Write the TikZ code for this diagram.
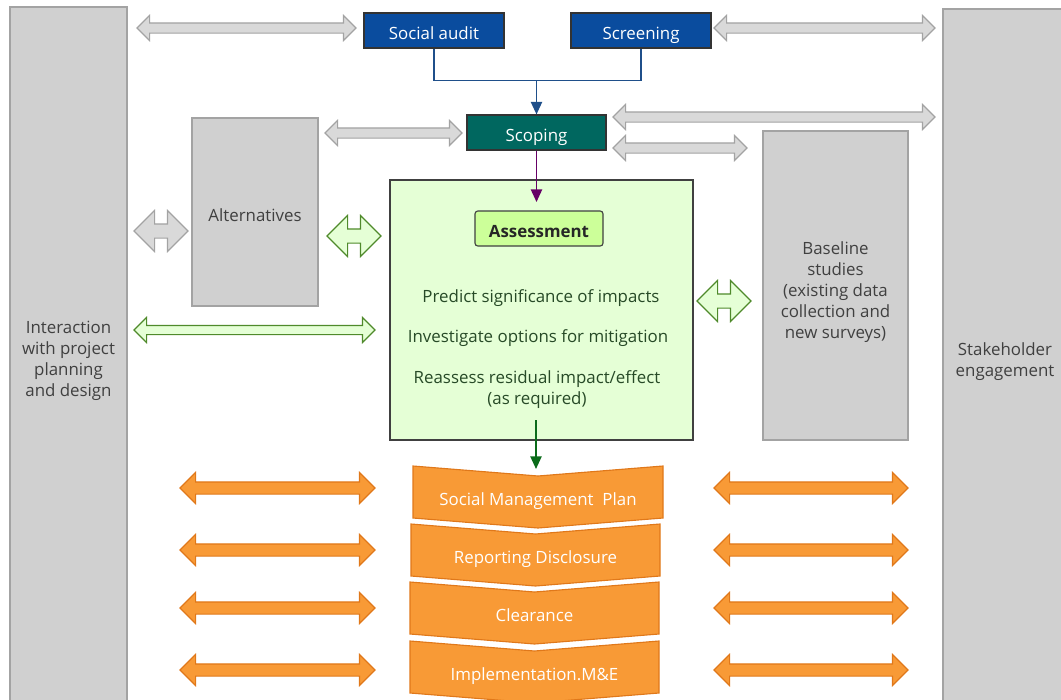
\documentclass[tikz,border=0pt]{standalone}
\usepackage{fontspec}
\setmainfont{Open Sans}
\usetikzlibrary{shapes.arrows,arrows.meta}
\definecolor{boxgray}{HTML}{D0D0D0}
\definecolor{boxedge}{HTML}{A3A3A3}
\definecolor{arrgray}{HTML}{D9D9D9}
\definecolor{auditblue}{HTML}{0A4C9E}
\definecolor{scopeteal}{HTML}{00675F}
\definecolor{lightgreen}{HTML}{E5FFD6}
\definecolor{headgreen}{HTML}{CCFF99}
\definecolor{edgegreen}{HTML}{4F8A2B}
\definecolor{textgreen}{HTML}{274A27}
\definecolor{planorange}{HTML}{F89A36}
\definecolor{edgeorange}{HTML}{E0781A}
\definecolor{linkblue}{HTML}{1F4F8A}
\definecolor{linkpurple}{HTML}{660066}
\definecolor{linkgreen}{HTML}{0B6B1A}
\def\pxu{0.025cm}
\newcommand{\stage}[5]{%
  \draw[stagebox] (#2,#4) -- ({(#2+#3)/2},#4+10) -- (#3,#4) -- (#3,#4+52)
    -- ({(#2+#3)/2},#4+62) -- (#2,#4+52) -- cycle;
  \coordinate (#1-top) at ({(#2+#3)/2},#4+10);
  \node[stagetext] (#1) at ({(#2+#3)/2},#4+30) {#5};
}

\begin{document}
\begin{tikzpicture}[x=\pxu,y=-\pxu,font=\fontsize{12}{15}\selectfont,
    dims/.style 2 args={minimum width={#1*\pxu},minimum height={#2*\pxu}},
    oneline/.style={text height=13.4pt,text depth=0pt},
    sidebox/.style={draw=boxedge,fill=boxgray,line width=0.8pt,inner sep=0pt},
    sidetext/.style={text=black!75,align=center,inner sep=0pt},
    topbox/.style={draw=black!80,fill=auditblue,line width=0.8pt,text=white,inner sep=0pt,oneline},
    assessbox/.style={draw=black!75,fill=lightgreen,line width=0.8pt,inner sep=0pt},
    assesstext/.style={text=textgreen,align=center,inner sep=1pt},
    blk/.style n args={3}{double arrow,minimum height={#1*\pxu},minimum width={#2*\pxu},
      inner xsep=0pt,inner ysep={#3/2*\pxu},double arrow head extend={(#2-#3)/2*\pxu},line width=0.8pt},
    grayarr/.style={draw=boxedge,fill=arrgray},
    greenarr/.style={draw=edgegreen,fill=lightgreen},
    orangearr/.style={draw=edgeorange,fill=planorange},
    stagebox/.style={draw=edgeorange,fill=planorange,line width=0.8pt},
    stagetext/.style={text=white,inner sep=1pt,oneline},
    link/.style={line width=1.2pt,-{Triangle[width=8pt,length=9pt]}}]
  \useasboundingbox (0,0) rectangle (1061,699);
  \clip (0,0) rectangle (1061,699);

  % side columns
  \node[sidebox,dims={117}{700}] (inter) at (68.5,357) {};
  \node[sidetext] (inter-text) at (68.5,360.5) {Interaction\\with project\\planning\\and design};
  \node[sidebox,dims={124}{700}] (stake) at (1005,359) {};
  \node[sidetext] (stake-text) at (1005,362) {Stakeholder\\engagement};
  \node[sidebox,dims={126}{188}] (alt) at (255,212) {};
  \node[sidetext] (alt-text) at (255,215) {Alternatives};
  \node[sidebox,dims={145}{309}] (base) at (835.5,285.5) {};
  \node[sidetext] (base-text) at (835.5,292) {Baseline\\studies\\(existing data\\collection and\\new surveys)};

  % top steps
  \node[topbox,dims={140}{35}] (audit) at (434,30.5) {Social audit};
  \node[topbox,dims={140}{35}] (screen) at (641,30.5) {Screening};
  \node[topbox,fill=scopeteal,dims={139}{35}] (scoping) at (536.5,132.5) {Scoping};

  % assessment
  \node[assessbox,dims={303}{260}] (assess) at (541.5,310) {};
  \node[assessbox,fill=headgreen,rounded corners=2pt,dims={128}{35},oneline,text=black!85,font=\fontsize{12}{15}\selectfont\bfseries] (asshead) at (539,228.5) {Assessment};
  \node[assesstext] (predict) at (541,298.5) {Predict significance of impacts};
  \node[assesstext] (mitigate) at (538,338.5) {Investigate options for mitigation};
  \node[assesstext] (reassess) at (537,390) {Reassess residual impact/effect\\(as required)};

  % block arrows
  \node[blk={219}{24}{9},grayarr] (audit-link) at (246.5,28) {};
  \node[blk={221}{24}{9},grayarr] (screen-link) at (824.5,28) {};
  \node[blk={137}{24}{9},grayarr] (alt-scope) at (393.5,133) {};
  \node[blk={322}{24}{9},grayarr] (scope-stake) at (774,117) {};
  \node[blk={134}{24}{9},grayarr] (scope-base) at (680,148) {};
  \node[blk={54}{40}{13},grayarr] (inter-alt) at (161,231) {};
  \node[blk={54}{40}{13},greenarr] (alt-assess) at (354,236) {};
  \node[blk={54}{40}{13},greenarr] (assess-base) at (724,301) {};
  \node[blk={241}{24}{8},greenarr] (inter-assess) at (254.5,330) {};
  \foreach \y [count=\i] in {488,550,608,670}{
    \node[blk={195}{30}{11},orangearr] (plan-left\i) at (277.5,\y) {};
    \node[blk={194}{30}{11},orangearr] (plan-right\i) at (811,\y) {};
  }

  % management stages
  \stage{smp}{413}{663}{466}{Social Management\ \ Plan}
  \stage{report}{411}{660}{524}{Reporting Disclosure}
  \stage{clear}{410}{659}{582}{Clearance}
  \stage{implement}{410}{659}{641}{Implementation.M\&E}

  % connectors
  \path (audit.south) ++(0,32) coordinate (bend);
  \coordinate (join) at (scoping.north |- bend);
  \draw[linkblue,line width=1.2pt] (audit.south) |- (join) -| (screen.south);
  \draw[link,linkblue] (join) -- (scoping.north);
  \draw[link,linkpurple,shorten >=6pt] (scoping.south) -- (scoping.south |- asshead.north);
  \coordinate (drop) at (536,420);
  \draw[link,linkgreen,shorten >=5pt] (drop) -- (drop |- smp-top);
\end{tikzpicture}
\end{document}
